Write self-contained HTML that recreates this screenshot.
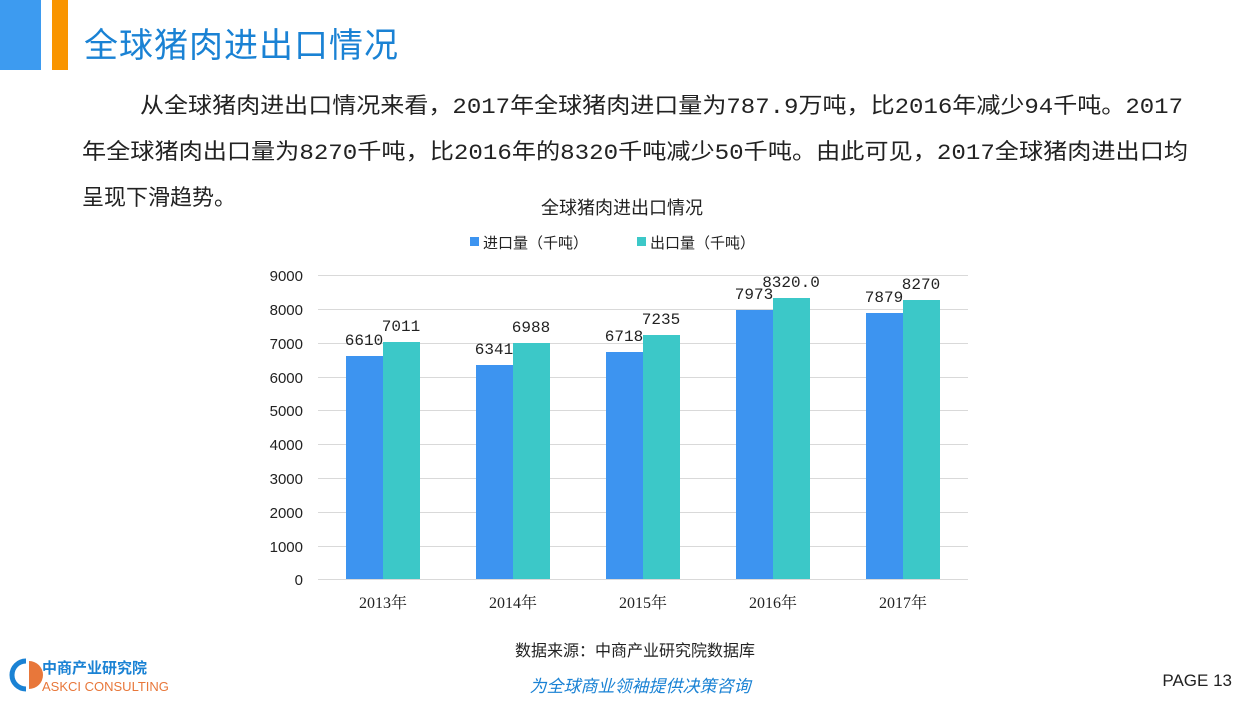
<!DOCTYPE html>
<html><head><meta charset="utf-8"><style>
body{margin:0;width:1250px;height:710px;background:#fff;position:relative;overflow:hidden;font-family:"Liberation Sans","Noto Sans CJK SC",sans-serif}
.a{position:absolute}
</style></head><body>
<div class="a" style="left:0;top:0;width:41px;height:70px;background:#3d9bf0"></div>
<div class="a" style="left:52px;top:0;width:16px;height:70px;background:#f99500"></div>
<div class="a" style="left:84px;top:18px;font-size:34px;color:#1a82d4;letter-spacing:1px">全球猪肉进出口情况</div>
<svg class="a" style="left:0;top:0" width="1250" height="710" font-family="Liberation Sans,Noto Sans CJK SC,sans-serif">
<g font-size="22" fill="#222" font-family="Liberation Mono,Noto Sans CJK SC,sans-serif">
<text x="140" y="113" textLength="1043" lengthAdjust="spacingAndGlyphs">从全球猪肉进出口情况来看，2017年全球猪肉进口量为787.9万吨，比2016年减少94千吨。2017</text>
<text x="82" y="159" textLength="1106" lengthAdjust="spacingAndGlyphs">年全球猪肉出口量为8270千吨，比2016年的8320千吨减少50千吨。由此可见，2017全球猪肉进出口均</text>
<text x="82" y="205">呈现下滑趋势。</text>
</g>
<text x="622" y="214" font-size="18" text-anchor="middle" fill="#222">全球猪肉进出口情况</text>
<rect x="470" y="237" width="9" height="9" fill="#3d94f0"/><text x="483" y="248" font-size="15" fill="#222">进口量（千吨）</text>
<rect x="637" y="237" width="9" height="9" fill="#3cc8c8"/><text x="650" y="248" font-size="15" fill="#222">出口量（千吨）</text>
<g stroke="#d9d9d9" stroke-width="1">
<line x1="318" x2="968" y1="275.5" y2="275.5"/><line x1="318" x2="968" y1="309.5" y2="309.5"/><line x1="318" x2="968" y1="343.5" y2="343.5"/><line x1="318" x2="968" y1="377.5" y2="377.5"/><line x1="318" x2="968" y1="410.5" y2="410.5"/><line x1="318" x2="968" y1="444.5" y2="444.5"/><line x1="318" x2="968" y1="478.5" y2="478.5"/><line x1="318" x2="968" y1="512.5" y2="512.5"/><line x1="318" x2="968" y1="546.5" y2="546.5"/><line x1="318" x2="968" y1="579.5" y2="579.5"/>
</g>
<g font-size="15" fill="#222" text-anchor="end" font-family="Liberation Sans,sans-serif">
<text x="303" y="281">9000</text><text x="303" y="315">8000</text><text x="303" y="349">7000</text><text x="303" y="383">6000</text><text x="303" y="416">5000</text><text x="303" y="450">4000</text><text x="303" y="484">3000</text><text x="303" y="518">2000</text><text x="303" y="552">1000</text><text x="303" y="585">0</text>
</g>
<g fill="#3d94f0">
<rect x="346" y="356" width="37" height="223"/><rect x="476" y="365" width="37" height="214"/><rect x="606" y="352" width="37" height="227"/><rect x="736" y="310" width="37" height="269"/><rect x="866" y="313" width="37" height="266"/>
</g>
<g fill="#3cc8c8">
<rect x="383" y="342" width="37" height="237"/><rect x="513" y="343" width="37" height="236"/><rect x="643" y="335" width="37" height="244"/><rect x="773" y="298" width="37" height="281"/><rect x="903" y="300" width="37" height="279"/>
</g>
<g font-size="16" fill="#222" text-anchor="middle" font-family="Liberation Mono,monospace">
<text x="364" y="345">6610</text><text x="401" y="331">7011</text>
<text x="494" y="354">6341</text><text x="531" y="332">6988</text>
<text x="624" y="341">6718</text><text x="661" y="324">7235</text>
<text x="754" y="299">7973</text><text x="791" y="287">8320.0</text>
<text x="884" y="302">7879</text><text x="921" y="289">8270</text>
</g>
<g font-size="16" fill="#222" text-anchor="middle" font-family="Liberation Serif,Noto Serif CJK SC,serif">
<text x="383" y="608">2013年</text><text x="513" y="608">2014年</text><text x="643" y="608">2015年</text><text x="773" y="608">2016年</text><text x="903" y="608">2017年</text>
</g>
<text x="635" y="656" font-size="16" text-anchor="middle" fill="#222">数据来源：中商产业研究院数据库</text>
<text x="640" y="692" font-size="17" text-anchor="middle" fill="#1a82d4" font-style="italic">为全球商业领袖提供决策咨询</text>
<text x="1232" y="686" font-size="17" text-anchor="end" fill="#222">PAGE 13</text>
<path d="M26 661 A12 12 0 0 0 26 689" stroke="#1a82d4" stroke-width="5" fill="none"/>
<path d="M29 661 A12 12 0 0 1 29 689 Z" fill="#e8773a"/>
<text x="42" y="673" font-size="15" fill="#1a82d4" font-weight="bold">中商产业研究院</text>
<text x="42" y="691" font-size="13" fill="#e8773a">ASKCI CONSULTING</text>
</svg>
</body></html>
